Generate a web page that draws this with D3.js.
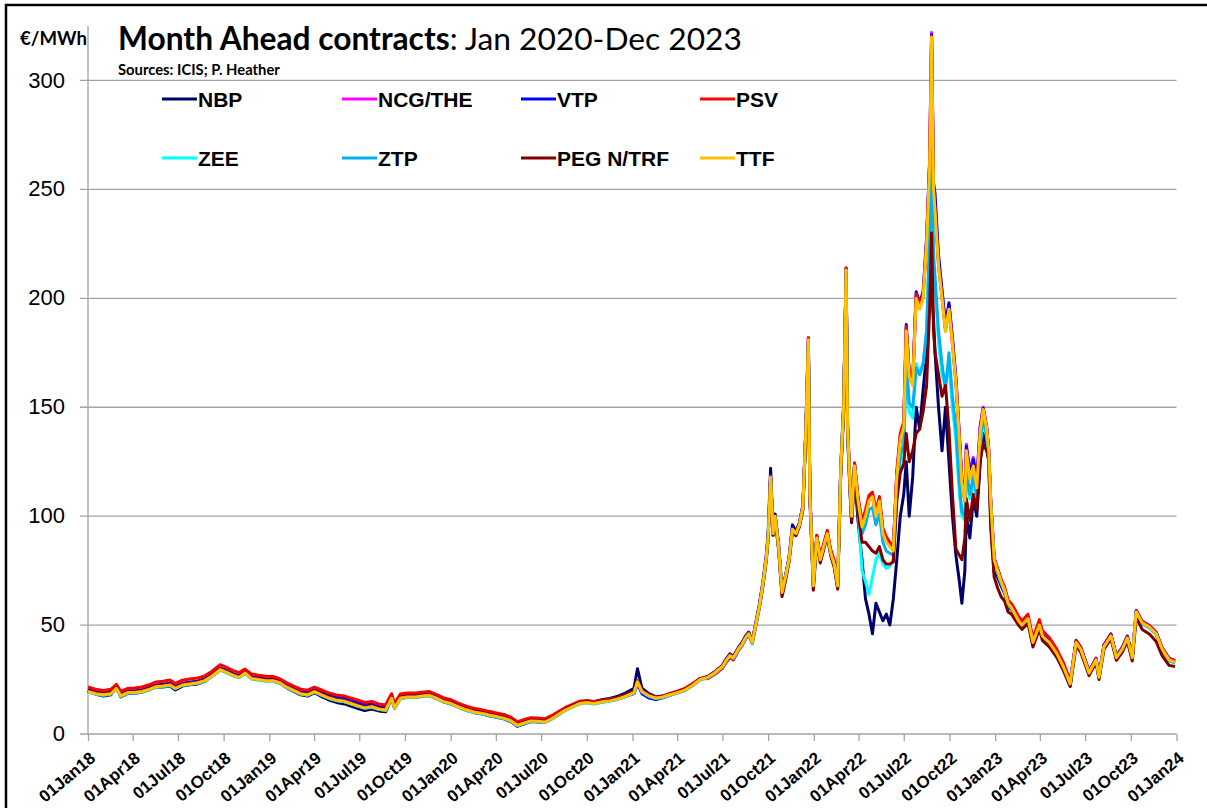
<!DOCTYPE html>
<html>
<head>
<meta charset="utf-8">
<script src="https://cdn.jsdelivr.net/npm/d3@7"></script>
<style>
  body { margin: 0; background: #fff; }
  svg { display: block; }
</style>
</head>
<body>
<div id="chart"></div>
<script>
// Dates of the readings (semi-monthly to mid 2021, weekly through the 2021-22 crisis)
var dates = [
  "2018-01-01","2018-01-16","2018-02-01","2018-02-16","2018-02-27","2018-03-08","2018-03-22","2018-04-05","2018-04-20","2018-05-04","2018-05-18","2018-06-01","2018-06-15","2018-06-26","2018-07-10","2018-07-25","2018-08-10","2018-08-24","2018-09-07","2018-09-24","2018-10-05","2018-10-19","2018-11-01","2018-11-13","2018-11-26","2018-12-10","2018-12-24",
  "2019-01-08","2019-01-22","2019-02-05","2019-02-19","2019-03-05","2019-03-19","2019-04-02","2019-04-16","2019-05-01","2019-05-16","2019-06-01","2019-06-14","2019-06-27","2019-07-12","2019-07-26","2019-08-09","2019-08-23","2019-09-04","2019-09-10","2019-09-22","2019-10-07","2019-10-22","2019-11-05","2019-11-18","2019-12-03","2019-12-17",
  "2020-01-02","2020-01-16","2020-02-03","2020-02-18","2020-03-03","2020-03-18","2020-04-02","2020-04-17","2020-05-02","2020-05-14","2020-05-27","2020-06-10","2020-06-24","2020-07-08","2020-07-22","2020-08-05","2020-08-19","2020-09-02","2020-09-16","2020-10-01","2020-10-15","2020-11-02","2020-11-16","2020-12-01","2020-12-15",
  "2021-01-04","2021-01-11","2021-01-20","2021-02-03","2021-02-17","2021-03-03","2021-03-17","2021-04-01","2021-04-15","2021-05-03","2021-05-17","2021-06-01","2021-06-15",
  "2021-07-01","2021-07-09","2021-07-16","2021-07-23","2021-08-02","2021-08-09","2021-08-16","2021-08-23","2021-08-30","2021-09-06","2021-09-13","2021-09-20","2021-09-27","2021-10-01","2021-10-06","2021-10-11","2021-10-15","2021-10-22","2021-10-29","2021-11-05","2021-11-12","2021-11-19","2021-11-26","2021-12-03","2021-12-10","2021-12-16","2021-12-21","2021-12-24","2021-12-31",
  "2022-01-07","2022-01-14","2022-01-21","2022-01-28","2022-02-04","2022-02-11","2022-02-18","2022-02-24","2022-03-02","2022-03-07","2022-03-10","2022-03-15","2022-03-18","2022-03-24","2022-03-31","2022-04-08","2022-04-15","2022-04-22","2022-04-29","2022-05-06","2022-05-13","2022-05-20","2022-05-27","2022-06-03","2022-06-10","2022-06-17","2022-06-24","2022-07-01","2022-07-06","2022-07-12","2022-07-19","2022-07-26","2022-08-02","2022-08-09","2022-08-16","2022-08-22","2022-08-26","2022-08-30","2022-09-02","2022-09-09","2022-09-16","2022-09-23","2022-09-30","2022-10-07","2022-10-14","2022-10-21","2022-10-26","2022-11-01","2022-11-04","2022-11-11","2022-11-18","2022-11-25","2022-12-02","2022-12-08","2022-12-15","2022-12-19","2022-12-23","2022-12-30",
  "2023-01-06","2023-01-13","2023-01-20","2023-01-27","2023-02-03","2023-02-10","2023-02-17","2023-02-24","2023-03-08","2023-03-18","2023-03-31","2023-04-06","2023-04-20","2023-05-05","2023-05-18","2023-06-01","2023-06-13","2023-06-22","2023-07-09","2023-07-23","2023-07-29","2023-08-08","2023-08-22","2023-09-02","2023-09-14","2023-09-24","2023-10-04","2023-10-12","2023-10-24","2023-11-08","2023-11-21","2023-12-03","2023-12-17","2023-12-29"
];

// Hub prices, EUR/MWh
var nbp = [
  19.8,18.3,17.4,18.0,21.5,17.0,18.6,18.7,19.2,20.3,21.5,21.6,22.0,20.2,22.0,22.6,23.0,24.2,26.5,29.8,28.8,27.0,26.0,29.2,25.5,25.2,24.5,
  24.6,23.4,21.2,19.6,18.0,17.4,19.0,17.2,15.6,14.5,13.8,12.8,11.8,10.8,11.5,10.6,10.2,16.3,11.8,16.4,16.9,16.8,17.4,17.7,16.3,14.8,
  13.8,12.3,10.8,9.8,9.3,8.4,7.7,7.0,5.6,3.5,4.6,5.7,5.5,5.3,6.9,9.0,11.1,12.8,14.5,15.2,14.8,15.8,16.3,17.2,18.5,
  21.0,30.0,21.0,18.5,17.2,17.5,18.3,19.2,20.2,22.7,25.2,26.3,28.4,
  31.5,34.6,36.8,35.7,39.6,41.8,44.8,46.8,42.6,50.8,59.0,69.0,81.5,92.0,122.0,93.0,101.0,87.5,66.0,72.5,81.0,96.0,93.0,97.0,105.0,139.0,178.0,111.0,69.0,
  91,80.5,86.5,92.5,83,78,67.5,118,148,210,137,110,97,118,98,80,62,55,46,60,56,52,55,50,62,80,100,110,125,100,118,150,140,158,175,198,205,190,175,150,130,150,125,100,82,70,60,75,100,90,108,100,125,138,132,125,98,74,
  72,68,64.5,58.5,57,54,51.2,49.3,52.5,41,49.5,44.3,41,35.8,29.8,22,42.5,39.3,27.7,33.6,25.8,40.5,45.3,35,39.2,44.4,35,56,50.8,48.8,45.8,38.8,33.8,32.8
];
var ncg = [
  20.0,19.0,18.5,19.0,21.4,18.0,19.4,19.5,20.0,21.0,22.2,22.5,23.0,21.5,23.0,23.5,24.0,25.0,27.0,30.0,29.0,27.5,26.5,28.5,26.0,25.5,25.0,
  25.0,24.0,22.0,20.5,19.0,18.5,20.0,18.6,17.3,16.5,16.2,15.0,14.0,12.8,13.2,12.0,11.5,16.9,12.4,16.9,17.4,17.4,17.9,18.2,16.9,15.4,
  14.4,12.9,11.4,10.4,9.9,9.1,8.4,7.7,6.4,4.4,5.4,6.4,6.2,5.9,7.4,9.4,11.4,12.9,14.4,14.9,14.4,15.2,15.6,16.4,17.4,
  19.4,24.5,19.9,17.9,16.9,17.4,18.4,19.4,20.4,22.9,25.4,26.4,28.4,
  31.4,34.4,36.4,35.4,39.4,41.4,44.4,46.4,42.4,50.4,58.4,68.4,80.5,90.5,118.5,92.4,100.4,86.4,65.4,72.4,80.4,94.4,92.4,96.4,104.5,140.5,181.5,110.5,68.4,
  90.4,80.4,86.4,92.4,83.4,78.4,68.4,120.5,150.5,213.5,140.5,113.5,100.5,123.5,107.5,95.5,100.5,107.5,109.5,100.5,107.5,92.5,88.5,86.5,84.5,118.5,135.5,141.5,185.5,164.5,160.5,200.5,195.5,200.5,226,262,322,252,242,217,202,187,197,181,163,137,117,110,133,121,127,117,142,150,141,131,108,81,
  75.8,70.8,66.8,60.8,58.7,55.7,52.7,50.7,53.7,42.7,50.7,45.7,42.7,37.7,31.6,23.6,42.6,39.6,28.6,34.6,26.6,40.6,45.6,35.6,39.6,44.6,35.6,56.8,51.8,49.8,46.8,39.8,34.8,33.8
];
var vtp = [
  20.3,19.4,18.8,19.3,21.8,18.3,19.8,19.8,20.3,21.3,22.5,22.8,23.3,21.8,23.3,23.8,24.3,25.3,27.3,30.3,29.3,27.8,26.8,28.8,26.3,25.8,25.3,
  25.3,24.3,22.3,20.9,19.4,18.9,20.5,19.2,17.9,17.2,16.8,15.8,14.8,13.5,13.8,12.6,12.0,17.2,12.7,17.2,17.6,17.6,18.1,18.4,17.1,15.6,
  14.6,13.1,11.6,10.6,10.2,9.4,8.7,8.0,6.7,4.6,5.6,6.6,6.4,6.1,7.6,9.6,11.6,13.0,14.5,15.0,14.5,15.2,15.5,16.2,17.0,
  18.5,23.0,18.5,16.5,15.8,16.6,17.8,18.9,20.0,22.6,25.2,26.2,28.2,
  31.3,34.3,36.3,35.3,39.3,41.3,44.3,46.3,42.3,50.3,58.3,68.3,80.4,90.4,118.6,92.4,100.4,86.5,65.5,72.5,80.5,94.5,92.5,96.5,104.6,140.6,181.5,110.6,68.5,
  90.5,80.5,86.5,92.5,83.5,78.5,68.5,120.5,150.6,213.8,140.6,113.6,100.6,124,107.8,95.8,101,108,110,101,108,93,89,87,85,119,136.5,142.5,188,166,162,203,198,203,228,263,321,253,248,220,204,188,198,182,163,137,117,109,132,119,126,116,141,149.5,140.5,130.5,107.5,80.5,
  75.5,70.5,66.5,60.5,58.5,55.5,52.5,50.5,53.5,42.5,50.5,45.5,42.5,37.5,31.5,23.5,43,40,28.8,34.8,26.8,41,46,35.9,39.9,45,35.8,56.5,51.5,49.5,46.5,39.5,34.5,33.5
];
var psv = [
  21.6,20.6,20.0,20.5,22.8,19.6,21.0,21.1,21.6,22.6,23.9,24.2,24.8,23.2,24.7,25.2,25.7,26.7,28.7,31.8,30.8,29.2,28.2,29.8,27.6,27.0,26.5,
  26.4,25.4,23.5,22.0,20.6,20.1,21.5,20.2,18.8,17.9,17.5,16.5,15.6,14.5,14.9,13.8,13.3,18.5,14.0,18.4,18.8,18.8,19.2,19.5,18.2,16.7,
  15.7,14.2,12.7,11.7,11.2,10.4,9.7,9.0,7.6,5.6,6.6,7.5,7.3,7.0,8.4,10.3,12.2,13.6,15.0,15.4,14.9,15.6,16.0,16.7,17.6,
  19.4,24.3,19.8,17.8,16.8,17.4,18.6,19.7,20.8,23.3,25.6,25.4,27.3,
  30.2,33.0,35.0,34.0,38.2,40.3,43.3,45.4,41.5,49.5,57.5,67.0,79.0,89.0,117.0,91.5,99.5,85.0,64.0,71.5,79.5,93.5,91.5,96.2,104.5,141.0,182.0,111.0,69.5,
  91.2,81.5,87.5,93.5,84.7,79.8,69.8,121.5,151.5,214,141.5,115,102,124.5,109,97.5,103,109.5,111,102.5,109,94.5,90.5,88,86,121,138,143.5,187,166,162,202,197,202,226,261,320,250,240,215,200,185,195,179,161,135,115,107,130,117,123,113,139,149,140,130,107,80.5,
  76,71,67.5,61.5,59.8,57,54,52,55,44,52.5,47.5,44.3,39,33,24.5,42.8,39.8,28.6,34.6,26.5,40.6,45.6,35.6,39.6,44.6,35.5,56.5,51.5,49.5,46.5,39.5,34.5,33.5
];
var zee = [
  19.3,18.3,17.8,18.3,20.8,17.3,18.8,18.8,19.3,20.3,21.5,21.8,22.3,20.8,22.3,22.8,23.3,24.3,26.3,29.3,28.3,26.8,25.8,27.8,25.3,24.8,24.3,
  24.3,23.3,21.3,19.8,18.3,17.8,19.3,17.8,16.3,15.3,14.8,13.8,12.8,11.8,12.3,11.3,10.8,16.3,11.8,16.3,16.8,16.8,17.3,17.6,16.3,14.8,
  13.8,12.3,10.8,9.8,9.3,8.5,7.8,7.1,5.8,3.8,4.8,5.8,5.6,5.3,6.8,8.8,10.8,12.3,13.8,14.3,13.8,14.6,15.0,15.8,16.8,
  18.8,23.8,19.3,17.3,16.3,16.8,17.8,18.8,19.8,22.3,24.8,25.8,27.8,
  30.8,33.8,35.8,34.7,38.7,40.6,43.6,45.6,41.5,49.6,57.5,67.3,79.5,89.5,117.0,91.0,99.2,85.5,64.0,71.3,79.4,93.4,91.4,95.4,103.3,139.0,180.0,109.3,66.5,
  89.3,79.3,85.3,91.3,82.3,77.3,66.8,122,150,212.5,139,112,99,121,103,75,70,64,72,80,83,78,76,77,80,108,125,130,168,148,145,170,165,170,185,230,255,215,205,180,165,160,170,150,135,110,100,98,118,108,115,108,132,145,136,127,104,78,
  74,69.2,65.2,59.3,57.4,54.4,51.4,49.4,52.4,41.4,49.4,44.4,41.4,36.4,30.5,22.6,41.5,38.5,27.6,33.6,25.6,39.6,44.6,34.6,38.6,43.6,34.6,55.6,50.6,48.6,45.6,38.6,33.6,32.6
];
var ztp = [
  19.4,18.4,17.9,18.4,20.9,17.4,18.9,18.9,19.4,20.4,21.6,21.9,22.4,20.9,22.4,22.9,23.4,24.4,26.4,29.4,28.4,26.9,25.9,27.9,25.4,24.9,24.4,
  24.4,23.4,21.4,19.9,18.4,17.9,19.4,17.9,16.4,15.4,14.9,13.9,12.9,11.9,12.4,11.4,10.9,16.4,11.9,16.4,16.9,16.9,17.4,17.7,16.4,14.9,
  13.9,12.4,10.9,9.9,9.4,8.6,7.9,7.2,5.9,3.9,4.9,5.9,5.7,5.4,6.9,8.9,10.9,12.4,13.9,14.4,13.9,14.7,15.1,15.9,16.9,
  18.9,23.9,19.4,17.4,16.4,16.9,17.9,18.9,19.9,22.4,24.9,25.9,27.9,
  30.9,33.9,35.9,34.8,38.8,40.8,43.8,45.8,41.8,49.8,57.8,67.7,79.8,89.8,117.5,91.5,99.6,85.7,64.5,71.6,79.7,93.7,91.7,95.7,103.7,139.5,180.5,109.6,67.5,
  89.6,79.6,85.6,91.6,82.6,77.6,67.5,120,149.5,212.5,139.5,112.5,99.5,122,105.5,92,96,103,104,96,101,88,84,83,82,112,128,133,172,152,150,168,165,170,185,225,263,220,210,185,170,158,175,155,140,115,102,100,122,110,118,110,135,146,137,128,105,79,
  74.5,69.5,65.5,59.6,57.6,54.6,51.6,49.6,52.6,41.6,49.6,44.6,41.6,36.6,30.7,22.8,41.7,38.7,27.8,33.8,25.8,39.8,44.8,34.8,38.8,43.8,34.8,55.8,50.8,48.8,45.8,38.8,33.8,32.8
];
var peg = [
  20.0,19.0,18.4,18.9,21.4,17.9,19.4,19.4,19.9,20.9,22.1,22.4,22.9,21.4,22.9,23.4,23.9,24.9,26.9,29.9,28.9,27.4,26.4,28.4,25.9,25.4,24.9,
  24.9,23.9,21.9,20.4,18.9,18.4,19.9,18.4,16.9,15.9,15.4,14.4,13.4,12.4,12.9,11.9,11.4,16.9,12.4,16.9,17.4,17.4,17.9,18.2,16.9,15.4,
  14.4,12.9,11.4,10.4,9.9,9.1,8.4,7.7,6.4,4.4,5.4,6.4,6.2,5.9,7.4,9.4,11.4,12.9,14.4,14.9,14.4,15.2,15.6,16.4,17.4,
  19.4,24.3,19.8,17.8,16.8,17.3,18.3,19.3,20.3,22.8,25.3,26.3,28.3,
  31.3,34.3,36.3,35.2,39.2,41.2,44.2,46.2,42.1,50.1,58.0,67.5,79.5,89.5,117.5,91.2,99.3,85.0,63.0,70.5,78.8,93.0,91.0,95.2,103.0,138.5,179.5,108.5,66.0,
  88.8,78.5,84.8,91,81.8,76.5,66.5,119,149,212,139,111,98,120,102,88,88,86,84,83,86,80,78,78,79,107,120,124,138,125,130,138,140,148,160,195,230,185,175,165,155,160,140,110,85,82,80,90,108,98,110,103,126,133,130,126,95,72,
  67,63,61,56,55,52.5,50,48,51,40,48,43,40,35.2,29.3,21.8,40.5,37.6,26.8,32.8,25,38.8,43.8,33.8,37.6,42.6,33.5,53.5,48,45.8,42.5,36,31.5,31
];
var ttf = [
  19.5,18.5,18.0,18.5,21.0,17.5,19.0,19.0,19.5,20.5,21.7,22.0,22.5,21.0,22.5,23.0,23.5,24.5,26.5,29.5,28.5,27.0,26.0,28.0,25.5,25.0,24.5,
  24.5,23.5,21.5,20.0,18.5,18.0,19.5,18.0,16.5,15.5,15.0,14.0,13.0,12.0,12.5,11.5,11.0,16.5,12.0,16.5,17.0,17.0,17.5,17.8,16.5,15.0,
  14.0,12.5,11.0,10.0,9.5,8.7,8.0,7.3,6.0,4.0,5.0,6.0,5.8,5.5,7.0,9.0,11.0,12.5,14.0,14.5,14.0,14.8,15.2,16.0,17.0,
  19.0,24.0,19.5,17.5,16.5,17.0,18.0,19.0,20.0,22.5,25.0,26.0,28.0,
  31,34,36,35,39,41,44,46,42,50,58,68,80,90,118,92,100,86,65,72,80,94,92,96,104,140,181,110,68,
  90,80,86,92,83,78,68,120,150,213,140,113,100,123,107,95,100,107,109,100,107,92,88,86,84,118,135,141,185,164,160,200,195,200,225,260,320,250,240,215,200,185,195,179,161,135,115,107,130,117,123,113,139,149,140,130,107,80,
  75,70,66,60,58,55,52,50,53,42,50,45,42,37,31,23,42,39,28,34,26,40,45,35,39,44,35,56,51,49,46,39,34,33
];

var seriesNames = ["NBP", "NCG/THE", "VTP", "PSV", "ZEE", "ZTP", "PEG N/TRF", "TTF"];
var seriesValues = [nbp, ncg, vtp, psv, zee, ztp, peg, ttf];
var seriesColors = ["#000066", "#ff00ff", "#0000ff", "#ff0000", "#00ffff", "#00b0f0", "#800000", "#ffc000"];
var yTicks = [0, 50, 100, 150, 200, 250, 300];

var svgWidth = 1207;
var svgHeight = 808;

var svg = d3.select("#chart")
    .append("svg")
    .attr("width", svgWidth)
    .attr("height", svgHeight);

// frame of the figure box
svg.append("path")
    .attr("d", "M6,808 L6,5 L1207,5")
    .attr("fill", "none")
    .attr("stroke", "#000")
    .attr("stroke-width", 2.5);

var margin = { top: 26, right: 30.5, bottom: 74, left: 88 };
var width = svgWidth - margin.left - margin.right;
var height = svgHeight - margin.top - margin.bottom;

var chartGroup = svg.append("g")
    .attr("transform", `translate(${margin.left}, ${margin.top})`);

var parseDate = d3.timeParse("%Y-%m-%d");
var dateValues = dates.map(parseDate);

var xTimeScale = d3.scaleTime()
    .domain([new Date(2018, 0, 1), new Date(2024, 0, 1)])
    .range([0, width]);

var yLinearScale = d3.scaleLinear()
    .domain([0, 325])
    .range([height, 0]);

var gridColor = "#a3a3a3";

// horizontal gridlines (these run a little past the axis like Excel ticks)
chartGroup.append("g")
    .selectAll("line")
    .data(yTicks)
    .enter()
    .append("line")
    .attr("x1", -8)
    .attr("x2", width)
    .attr("y1", d => yLinearScale(d))
    .attr("y2", d => yLinearScale(d))
    .attr("stroke", gridColor)
    .attr("stroke-width", 1.3);

// y axis
var leftAxis = d3.axisLeft(yLinearScale)
    .tickValues(yTicks)
    .tickSize(0)
    .tickPadding(23);

var yAxisGroup = chartGroup.append("g").call(leftAxis);
yAxisGroup.select(".domain").remove();
yAxisGroup.selectAll("text")
    .attr("font-family", "'Liberation Sans', Arial, sans-serif")
    .attr("font-size", 22)
    .attr("fill", "#000")
    .attr("dy", "0.3em");

chartGroup.append("line")
    .attr("x1", 0).attr("x2", 0)
    .attr("y1", 0).attr("y2", height)
    .attr("stroke", gridColor)
    .attr("stroke-width", 1.3);

// x axis with quarterly ticks
var bottomAxis = d3.axisBottom(xTimeScale)
    .ticks(d3.timeMonth.every(3))
    .tickSize(7)
    .tickSizeOuter(0)
    .tickFormat(d3.timeFormat("%d%b%y"));

var xAxisGroup = chartGroup.append("g")
    .attr("transform", `translate(0, ${height})`)
    .call(bottomAxis);
xAxisGroup.select(".domain").remove();
xAxisGroup.selectAll("line")
    .attr("stroke", gridColor)
    .attr("stroke-width", 1.3);
xAxisGroup.selectAll("text")
    .attr("font-family", "'Liberation Sans', Arial, sans-serif")
    .attr("font-weight", "bold")
    .attr("font-size", 17)
    .attr("fill", "#000")
    .attr("x", 0)
    .attr("y", 0)
    .attr("dy", 0)
    .attr("text-anchor", "end")
    .attr("transform", "translate(8, 26) rotate(-40)");

// price lines, TTF drawn last so it sits on top
var line = d3.line()
    .x((d, i) => xTimeScale(dateValues[i]))
    .y(d => yLinearScale(d));

chartGroup.append("g")
    .selectAll("path")
    .data(seriesValues)
    .enter()
    .append("path")
    .attr("d", d => line(d))
    .attr("fill", "none")
    .attr("stroke", (d, i) => seriesColors[i])
    .attr("stroke-width", 3)
    .attr("stroke-linejoin", "round");

// legend, two rows of four
var legendCols = [162, 342, 521, 700];
var legendRows = [99, 158];

var legend = svg.append("g")
    .selectAll("g")
    .data(seriesNames)
    .enter()
    .append("g")
    .attr("transform", (d, i) => `translate(${legendCols[i % 4]}, ${legendRows[Math.floor(i / 4)]})`);

legend.append("line")
    .attr("x1", 0).attr("x2", 35)
    .attr("y1", 0).attr("y2", 0)
    .attr("stroke", (d, i) => seriesColors[i])
    .attr("stroke-width", 3);

legend.append("text")
    .attr("x", 36)
    .attr("y", 7.5)
    .attr("font-family", "'Liberation Sans', Arial, sans-serif")
    .attr("font-weight", "bold")
    .attr("font-size", 21)
    .text(d => d);

// title block, sized to fit the widths in the original
var titleFont = "Lato, 'Open Sans', sans-serif";

var title = svg.append("text")
    .attr("x", 118)
    .attr("y", 50)
    .attr("font-family", titleFont)
    .attr("font-size", 30);
title.append("tspan").attr("font-weight", "bold").text("Month Ahead contracts");
title.append("tspan").text(": Jan 2020-Dec 2023");
var titleLen = title.node().getComputedTextLength();
title.attr("font-size", 30 * 624 / titleLen);

var sources = svg.append("text")
    .attr("x", 118)
    .attr("y", 75)
    .attr("font-family", titleFont)
    .attr("font-weight", "bold")
    .attr("font-size", 14)
    .text("Sources: ICIS; P. Heather");
sources.attr("font-size", 14 * 162 / sources.node().getComputedTextLength());

var unitLabel = svg.append("text")
    .attr("x", 87)
    .attr("y", 45)
    .attr("text-anchor", "end")
    .attr("font-family", titleFont)
    .attr("font-weight", "bold")
    .attr("font-size", 18)
    .text("€/MWh");
unitLabel.attr("font-size", 18 * 67 / unitLabel.node().getComputedTextLength());
</script>
</body>
</html>
